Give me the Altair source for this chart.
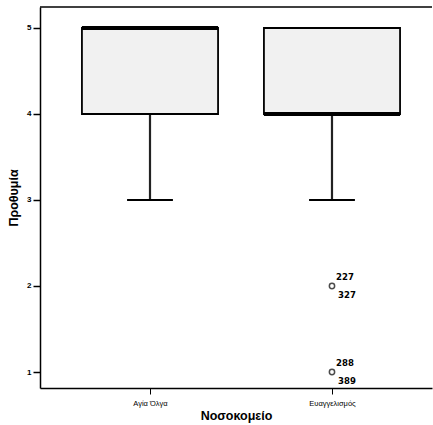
import altair as alt
import pandas as pd

# Boxplot summary per hospital (willingness score, 1-5 scale)
hospitals = ["Αγία Όλγα", "Ευαγγελισμός"]
q1 = [4, 4]
median = [5, 4]
q3 = [5, 5]
whisker_low = [3, 3]
whisker_high = [5, 5]

# Outliers (Ευαγγελισμός) with case numbers shown next to the markers
outlier_hospital = ["Ευαγγελισμός", "Ευαγγελισμός"]
outlier_value = [2, 1]
outlier_case_upper = ["227", "288"]
outlier_case_lower = ["327", "389"]

FONT = "Liberation Sans"
NARROW = "Liberation Sans Narrow, DejaVu Sans Condensed, Liberation Sans"

boxes = pd.DataFrame({
    "hospital": hospitals,
    "pos": list(range(1, len(hospitals) + 1)),
    "q1": q1, "median": median, "q3": q3,
    "wlo": whisker_low, "whi": whisker_high,
})
outl = pd.DataFrame({
    "pos": [hospitals.index(h) + 1 for h in outlier_hospital],
    "value": outlier_value,
    "up": outlier_case_upper,
    "down": outlier_case_lower,
})

label_expr = " : ".join(
    f"datum.value == {i + 1} ? '{h}'" for i, h in enumerate(hospitals)
) + " : ''"

xscale = alt.Scale(domain=[0.3956, 2.5495], nice=False, zero=False)
yscale = alt.Scale(domain=[0.814, 5.244], nice=False, zero=False)

x_axis = alt.Axis(
    values=list(range(1, len(hospitals) + 1)), labelExpr=label_expr,
    title="Νοσοκομείο", titleFont=FONT, titleFontSize=12.5, titleFontWeight="bold",
    titlePadding=3, labelFont=FONT, labelFontSize=7.5, labelPadding=5,
    tickSize=6, tickColor="black", domainColor="black", domainWidth=1.5,
    grid=False, labelColor="black", titleColor="black",
)
y_axis = alt.Axis(
    values=[1, 2, 3, 4, 5], format="d",
    title="Προθυμία", titleFont=FONT, titleFontSize=12.5, titleFontWeight="bold",
    titlePadding=6, labelFont=FONT, labelFontSize=8, labelFontWeight="bold",
    labelPadding=2, tickSize=7, tickColor="black", tickWidth=1.5,
    domainColor="black", domainWidth=1.5, grid=False,
    labelColor="black", titleColor="black",
)

base = alt.Chart(boxes)

whisker = base.mark_rule(color="#222222", strokeWidth=2.2).encode(
    x=alt.X("pos:Q", scale=xscale, axis=x_axis),
    y=alt.Y("wlo:Q", scale=yscale, axis=y_axis),
    y2="q1:Q",
)

cap = base.transform_calculate(
    xa="datum.pos - 0.126", xb="datum.pos + 0.126"
).mark_rule(color="black", strokeWidth=2).encode(
    x=alt.X("xa:Q", scale=xscale), x2="xb:Q", y=alt.Y("wlo:Q", scale=yscale)
)

box = base.transform_calculate(
    xa="datum.pos - 0.374", xb="datum.pos + 0.374"
).mark_rect(fill="#f1f1f1", stroke="black", strokeWidth=1.8).encode(
    x=alt.X("xa:Q", scale=xscale), x2="xb:Q",
    y=alt.Y("q1:Q", scale=yscale), y2="q3:Q",
)

med = base.transform_calculate(
    xa="datum.pos - 0.374", xb="datum.pos + 0.374"
).mark_rule(color="black", strokeWidth=4).encode(
    x=alt.X("xa:Q", scale=xscale), x2="xb:Q", y=alt.Y("median:Q", scale=yscale)
)

top_line = alt.Chart(pd.DataFrame({"y": [5.244]})).mark_rule(
    color="black", strokeWidth=1.5
).encode(
    x=alt.value(0), x2=alt.value(392), y=alt.Y("y:Q", scale=yscale)
)

pts = alt.Chart(outl).mark_point(
    shape="circle", filled=False, color="black", size=28, strokeWidth=1.5
).encode(x=alt.X("pos:Q", scale=xscale), y=alt.Y("value:Q", scale=yscale))

lab_up = alt.Chart(outl).mark_text(
    align="left", baseline="middle", dx=4, dy=-9, font=NARROW, fontSize=9.5,
    fontWeight="bold", color="black",
).encode(x=alt.X("pos:Q", scale=xscale), y=alt.Y("value:Q", scale=yscale),
         text="up:N")

lab_down = alt.Chart(outl).mark_text(
    align="left", baseline="middle", dx=6, dy=9, font=NARROW, fontSize=9.5,
    fontWeight="bold", color="black",
).encode(x=alt.X("pos:Q", scale=xscale), y=alt.Y("value:Q", scale=yscale),
         text="down:N")

chart = alt.layer(
    whisker, cap, box, med, top_line, pts, lab_up, lab_down
).properties(
    width=392, height=381,
    autosize=alt.AutoSizeParams(type="none"),
    padding={"left": 40, "top": 7, "right": 1, "bottom": 37},
    background="white",
).configure_view(stroke=None)

chart.save("out.html", embed_options={"renderer": "svg", "actions": False})
